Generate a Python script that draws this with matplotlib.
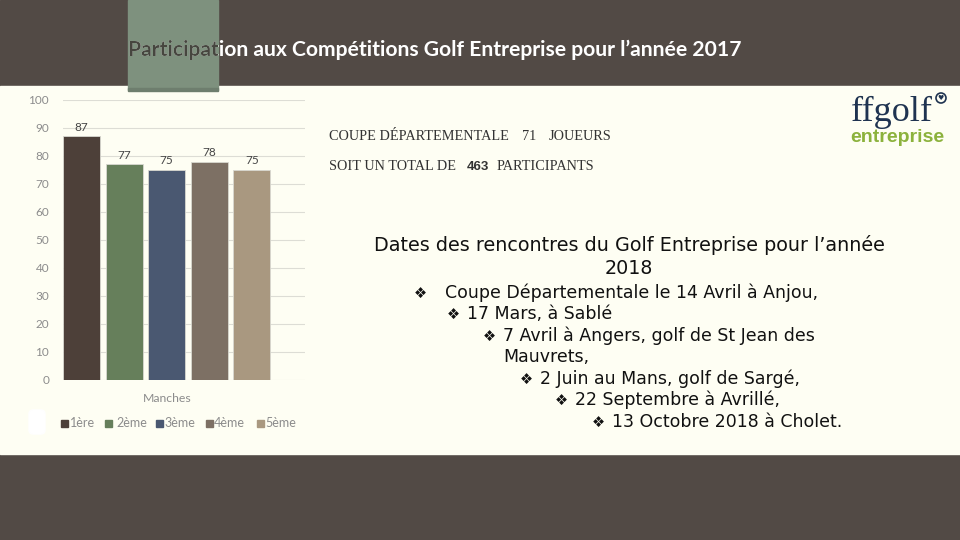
import matplotlib
matplotlib.use("Agg")
import matplotlib.pyplot as plt
from matplotlib.patches import Rectangle, FancyBboxPatch, Circle

# ---- data ----
series = ["1ère", "2ème", "3ème", "4ème", "5ème"]
values = [87, 77, 75, 78, 75]
category = "Manches"
yticks = [0, 10, 20, 30, 40, 50, 60, 70, 80, 90, 100]
bar_colors = ["#4D4039", "#667F5B", "#4A5871", "#7D7064", "#A99880"]

title = "Participation aux Compétitions Golf Entreprise pour l’année 2017"
info1 = [("COUPE DÉPARTEMENTALE", 329), ("71", 522), ("JOUEURS", 549)]
info2 = [("SOIT UN TOTAL DE", 329), ("463", 467), ("PARTICIPANTS", 497)]
heading = ["Dates des rencontres du Golf Entreprise pour l’année", "2018"]
dates = [
    (414, 293, "Coupe Départementale le 14 Avril à Anjou,", 445),
    (447, 314, "17 Mars, à Sablé", 467),
    (483, 336, "7 Avril à Angers, golf de St Jean des", 503),
    (None, 357, "Mauvrets,", 503),
    (520, 379, "2 Juin au Mans, golf de Sargé,", 540),
    (555, 400, "22 Septembre à Avrillé,", 575),
    (592, 422, "13 Octobre 2018 à Cholet.", 612),
]
legend_sq_x = [61, 105, 156, 206, 257]
legend_tx_x = [70, 116, 164, 214, 265]

DARK = "#524A45"
CREAM = "#FEFEF3"
GRAY = "#8C8C8C"

fig = plt.figure(figsize=(9.6, 5.4), dpi=100)

# background / overlay axes in pixel coordinates
bg = fig.add_axes([0, 0, 1, 1], zorder=0)
bg.set_xlim(0, 960)
bg.set_ylim(540, 0)
bg.axis("off")
bg.add_patch(Rectangle((0, 0), 960, 540, color=DARK, zorder=0))
bg.add_patch(Rectangle((0, 86), 960, 368, color=CREAM, zorder=1))
ribbon = Rectangle((128, 0), 90, 90, color="#7E917E", zorder=2)
bg.add_patch(ribbon)
bg.add_patch(Rectangle((128, 88), 90, 2.5, color="#6E7E6E", zorder=2))
bg.add_patch(FancyBboxPatch((29, 410), 16, 24, boxstyle="round,pad=0,rounding_size=4",
                            color="white", zorder=2))

# title (white, dark over ribbon)
tfont = dict(fontsize=15.2, family="Lato", weight="bold", va="center", ha="left")
bg.text(128, 50, title, color="white", zorder=3, **tfont)
tdark = bg.text(128, 50, title, color="#46463F", zorder=4, **tfont)
tdark.set_clip_on(True)
tdark.set_clip_path(ribbon)

# info texts
sfont = dict(family="Liberation Serif", fontsize=10.3, color="#333333", va="center", ha="left")
for txt, x in info1:
    bg.text(x, 137, txt, zorder=3, **sfont)
for i, (txt, x) in enumerate(info2):
    if i == 1:
        bg.text(x, 167, txt, zorder=3, family="Liberation Sans", weight="bold", fontsize=9.5,
                color="#333333", va="center", ha="left")
    else:
        bg.text(x, 167, txt, zorder=3, **sfont)

# logo
bg.text(851, 112, "ffgolf", family="Liberation Serif", fontsize=26, color="#1F3350",
        va="center", ha="left", zorder=3)
bg.add_patch(Circle((941, 98), 5, fill=False, edgecolor="#1F3350", lw=1.2, zorder=3))
bg.text(941, 98.5, "♥", fontsize=5, color="#1F3350", ha="center", va="center", zorder=3)
bg.text(897, 138, "entreprise", family="Liberation Sans", weight="bold", fontsize=14,
        color="#8CB23C", va="center", ha="center", zorder=3)

# dates
hfont = dict(family="DejaVu Sans", fontsize=13.8, color="#111111", va="center", ha="center")
bg.text(629, 245, heading[0], zorder=3, **hfont)
bg.text(629, 269, heading[1], zorder=3, **hfont)
dfont = dict(family="DejaVu Sans", fontsize=12.5, color="#111111", va="center", ha="left")
for xb, y, txt, xt in dates:
    if xb is not None:
        bg.text(xb, y, "❖", zorder=3, **{**dfont, "fontsize": 10.5})
    bg.text(xt, y, txt, zorder=3, **dfont)

# bar chart
ax = fig.add_axes([63 / 960, (540 - 380) / 540, (305 - 63) / 960, (380 - 100) / 540], zorder=1)
ax.set_facecolor("none")
xs = list(range(len(series)))
bars = ax.bar(xs, values, width=0.87, color=bar_colors, edgecolor="#D8D8D0", linewidth=0.6,
              label=series, zorder=2)
for x, v in zip(xs, values):
    ax.text(x, v + 1.3, str(v), ha="center", va="bottom", fontsize=8.5, color="#444444",
            family="Lato")
ax.set_xlim(-0.435, 5.25)
ax.set_ylim(0, 100)
ax.set_yticks(yticks)
ax.set_yticklabels([str(t) for t in yticks], fontsize=8.5, color=GRAY, family="Lato")
ax.tick_params(axis="y", length=0, pad=10)
ax.set_xticks([])
ax.grid(axis="y", color="#DDDDD5", lw=0.8, zorder=0)
for s in ax.spines.values():
    s.set_visible(False)

bg.text(167, 398, category, ha="center", va="center", fontsize=8.8, color=GRAY, family="Lato",
        zorder=3)
# legend
for name, col, xs_, xt_ in zip(series, bar_colors, legend_sq_x, legend_tx_x):
    bg.add_patch(Rectangle((xs_, 419.5), 7, 7, color=col, zorder=3))
    bg.text(xt_, 423, name, ha="left", va="center", fontsize=9, color=GRAY, family="Lato",
            zorder=3)

fig.savefig("out.png", dpi=100)
